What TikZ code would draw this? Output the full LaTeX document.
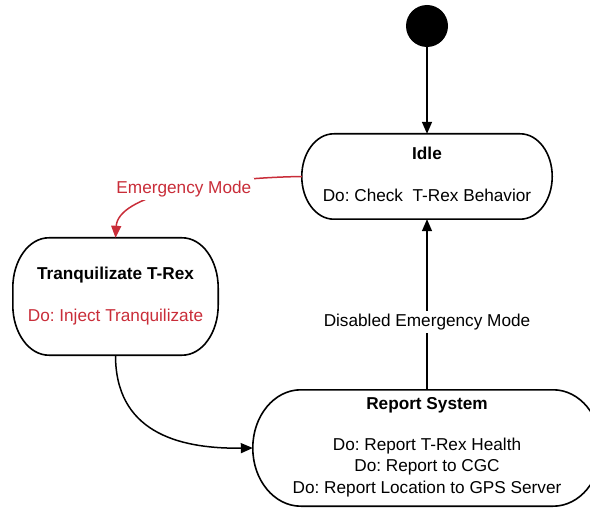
\documentclass[tikz,border=0pt]{standalone}
\usepackage{fontspec}
\setmainfont{Liberation Sans}
\usetikzlibrary{arrows.meta,calc}
\frenchspacing
\definecolor{alarm}{HTML}{C92D39}
\tikzset{
  x=1pt, y=-1pt,
  every node/.style={font=\fontsize{17.2}{21}\selectfont, inner sep=0pt},
  statefield/.style={rectangle, draw=none, minimum width=#1},
  stateline/.style={draw=black, line width=1.6pt},
  titletext/.style={font=\fontsize{17.2}{21}\selectfont\bfseries},
  bodytext/.style={align=center},
  flow/.style={draw=black, line width=1.5pt, -{Triangle[length=12pt,width=10pt]}},
  alarmflow/.style={draw=alarm, line width=1.5pt, -{Triangle[length=12pt,width=10pt]}},
  edgelabel/.style={fill=white, inner sep=3pt}
}
% outline of a state box with elliptical corners: node, x radius, y radius
\newcommand{\stateoutline}[3]{%
  \draw[stateline]
    ([xshift=#2]#1.north west) -- ([xshift=-#2]#1.north east)
    arc[start angle=90, end angle=0, x radius=#2, y radius=#3]
    -- ([yshift=#3]#1.south east)
    arc[start angle=0, end angle=-90, x radius=#2, y radius=#3]
    -- ([xshift=#2]#1.south west)
    arc[start angle=270, end angle=180, x radius=#2, y radius=#3]
    -- ([yshift=-#3]#1.north west)
    arc[start angle=180, end angle=90, x radius=#2, y radius=#3]
    -- cycle;}
\begin{document}
\begin{tikzpicture}
\useasboundingbox (0,0) rectangle (590,508);

% initial pseudo-state
\node[circle, fill=black, minimum size=42pt] (start) at (427,26) {};

% states (text offsets are page shifts: positive moves up)
\node[statefield=250pt, minimum height=85pt] (idle) at (427,176.5) {};
\stateoutline{idle}{32pt}{42.5pt}
\node[titletext] (idleT) at ([yshift=23]idle.center) {Idle};
\node[bodytext] (idleB) at ([yshift=-18.5]idle.center) {Do: Check~ T-Rex Behavior};

\node[statefield=205pt, minimum height=117pt] (tranq) at (115.5,296.5) {};
\stateoutline{tranq}{36pt}{50pt}
\node[titletext] (tranqT) at ([yshift=21.5]tranq.center) {Tranquilizate T-Rex};
\node[bodytext, text=alarm] (tranqB) at ([yshift=-20.5]tranq.center) {Do: Inject Tranquilizate};

\node[statefield=348pt, minimum height=116pt] (report) at (427,448) {};
\stateoutline{report}{48pt}{58pt}
\node[titletext] (reportT) at ([yshift=42.5]report.center) {Report System};
\node[bodytext] (reportB1) at ([yshift=1.5]report.center) {Do: Report T-Rex Health};
\node[bodytext] (reportB2) at ([yshift=-19.5]report.center) {Do: Report to CGC};
\node[bodytext] (reportB3) at ([yshift=-41]report.center) {Do: Report Location to GPS Server};

% transitions
\draw[alarmflow] (idle.west) .. controls (205,178) and (118,196) .. (tranq.north)
  node[pos=0.45, edgelabel, text=alarm] (emLabel) {Emergency Mode};
\draw[flow] (start) -- (idle.north);
\draw[flow] (tranq.south) .. controls (115.5,430) and (175,449) .. (report.west);
\draw[flow] (report.north -| idle.south) -- (idle.south)
  node[pos=0.4, edgelabel] (disLabel) {Disabled Emergency Mode};
\end{tikzpicture}
\end{document}
